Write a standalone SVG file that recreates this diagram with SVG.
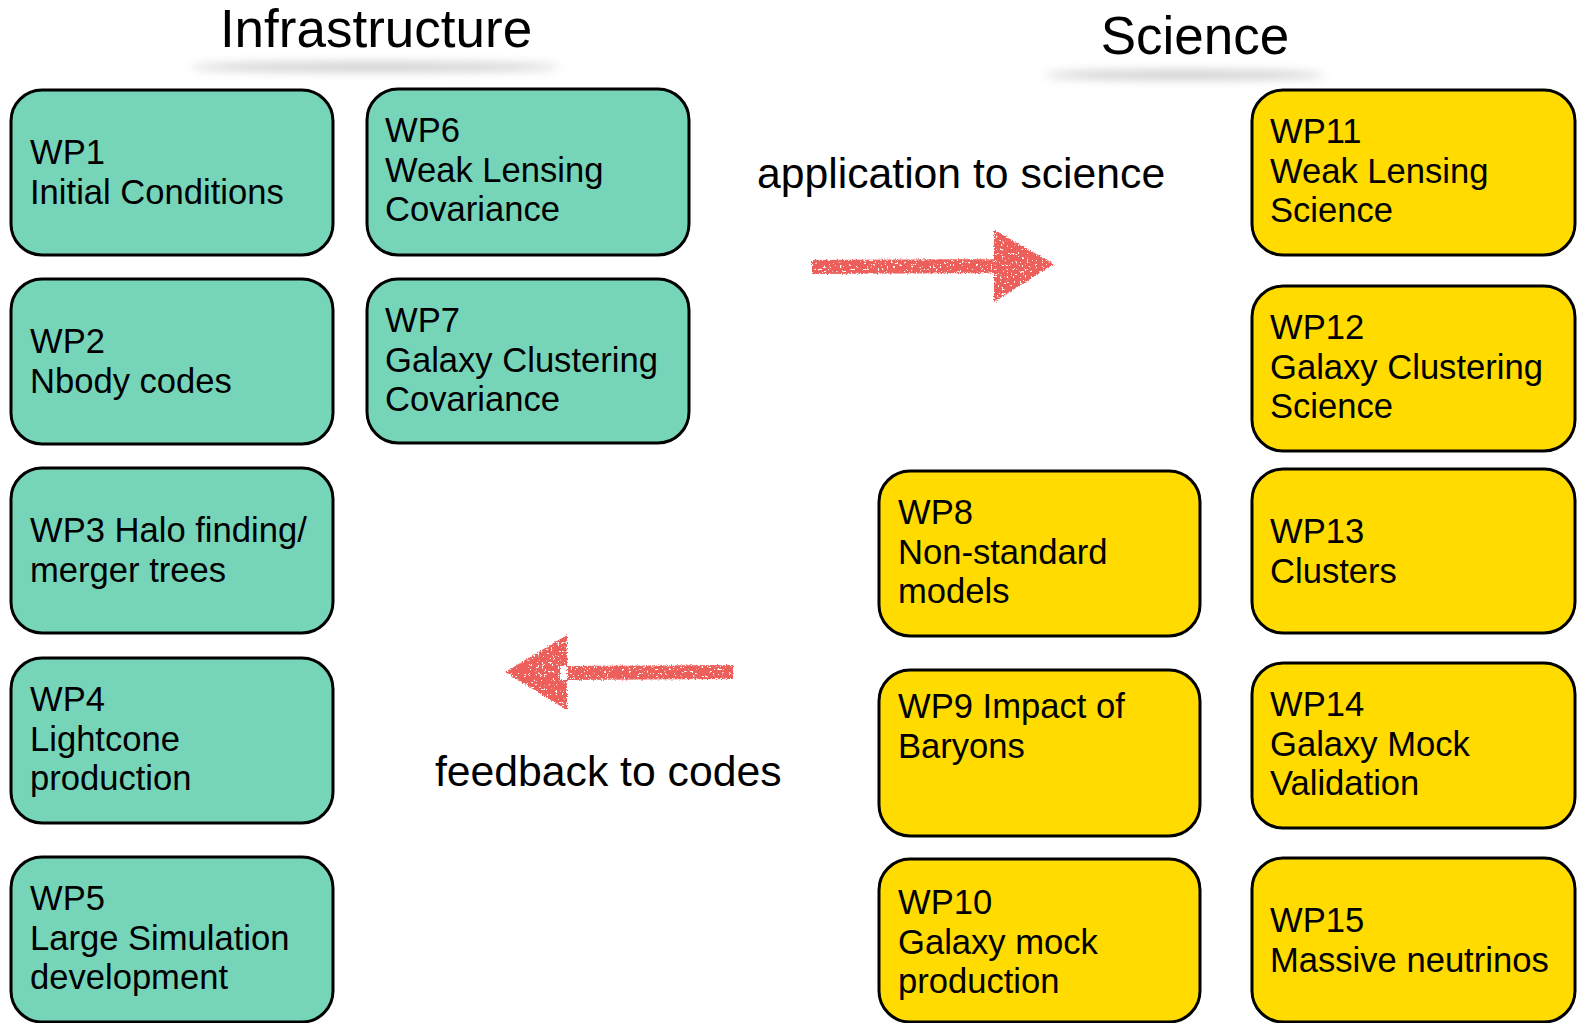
<svg xmlns="http://www.w3.org/2000/svg" width="1581" height="1023" viewBox="0 0 1581 1023">
  <defs>
    <style>
      .infra { fill: #76D5B9; stroke: #000; stroke-width: 3; }
      .sci { fill: #FFDB00; stroke: #000; stroke-width: 3; }
      .lbl { font-family: "Liberation Sans", Arial, sans-serif; font-size: 34.6px; fill: #000; }
      .title { font-family: "Liberation Sans", Arial, sans-serif; font-size: 53px; fill: #000; text-anchor: middle; }
      .note { font-family: "Liberation Sans", Arial, sans-serif; font-size: 42.7px; fill: #000; }
      .chalk { fill: #EC5E5A; filter: url(#chalk); }
    </style>
    <filter id="soft" x="-20%" y="-300%" width="140%" height="700%">
      <feGaussianBlur stdDeviation="5"/>
    </filter>
    <filter id="chalk" x="-10%" y="-30%" width="120%" height="160%">
      <feTurbulence type="fractalNoise" baseFrequency="0.8" numOctaves="2" seed="3" result="n"/>
      <feDisplacementMap in="SourceGraphic" in2="n" scale="4" xChannelSelector="R" yChannelSelector="G" result="d"/>
      <feTurbulence type="fractalNoise" baseFrequency="0.45" numOctaves="2" seed="11" result="n2"/>
      <feColorMatrix in="n2" type="matrix" values="0 0 0 0 0  0 0 0 0 0  0 0 0 0 0  -14 0 0 0 10" result="holes"/>
      <feComposite in="d" in2="holes" operator="in"/>
    </filter>
  </defs>

  <rect width="1581" height="1023" fill="#fff"/>

  <!-- column headings with soft drop shadows -->
  <g id="headings">
    <ellipse cx="375" cy="67" rx="185" ry="5" fill="#a0a0a0" opacity="0.5" filter="url(#soft)"/>
    <ellipse cx="1185" cy="75" rx="140" ry="5" fill="#a0a0a0" opacity="0.5" filter="url(#soft)"/>
    <text class="title" x="376" y="47">Infrastructure</text>
    <text class="title" x="1195" y="54">Science</text>
  </g>

  <!-- infrastructure work packages -->
  <g id="wp1">
    <rect class="infra" x="11" y="90" width="322" height="165" rx="31"/>
    <text class="lbl" x="30" y="164"><tspan>WP1</tspan><tspan x="30" dy="39.5">Initial Conditions</tspan></text>
  </g>
  <g id="wp2">
    <rect class="infra" x="11" y="279" width="322" height="165" rx="31"/>
    <text class="lbl" x="30" y="353"><tspan>WP2</tspan><tspan x="30" dy="39.5">Nbody codes</tspan></text>
  </g>
  <g id="wp3">
    <rect class="infra" x="11" y="468" width="322" height="165" rx="31"/>
    <text class="lbl" x="30" y="542"><tspan>WP3 Halo finding/</tspan><tspan x="30" dy="39.5">merger trees</tspan></text>
  </g>
  <g id="wp4">
    <rect class="infra" x="11" y="658" width="322" height="165" rx="31"/>
    <text class="lbl" x="30" y="711"><tspan>WP4</tspan><tspan x="30" dy="39.5">Lightcone</tspan><tspan x="30" dy="39.5">production</tspan></text>
  </g>
  <g id="wp5">
    <rect class="infra" x="11" y="857" width="322" height="165" rx="31"/>
    <text class="lbl" x="30" y="910"><tspan>WP5</tspan><tspan x="30" dy="39.5">Large Simulation</tspan><tspan x="30" dy="39.5">development</tspan></text>
  </g>
  <g id="wp6">
    <rect class="infra" x="367" y="89" width="322" height="166" rx="31"/>
    <text class="lbl" x="385" y="142"><tspan>WP6</tspan><tspan x="385" dy="39.5">Weak Lensing</tspan><tspan x="385" dy="39.5">Covariance</tspan></text>
  </g>
  <g id="wp7">
    <rect class="infra" x="367" y="279" width="322" height="164" rx="31"/>
    <text class="lbl" x="385" y="332"><tspan>WP7</tspan><tspan x="385" dy="39.5">Galaxy Clustering</tspan><tspan x="385" dy="39.5">Covariance</tspan></text>
  </g>

  <!-- science work packages -->
  <g id="wp8">
    <rect class="sci" x="879" y="471" width="321" height="165" rx="31"/>
    <text class="lbl" x="898" y="524"><tspan>WP8</tspan><tspan x="898" dy="39.5">Non-standard</tspan><tspan x="898" dy="39.5">models</tspan></text>
  </g>
  <g id="wp9">
    <rect class="sci" x="879" y="670" width="321" height="166" rx="31"/>
    <text class="lbl" x="898" y="718"><tspan>WP9 Impact of</tspan><tspan x="898" dy="39.5">Baryons</tspan></text>
  </g>
  <g id="wp10">
    <rect class="sci" x="879" y="859" width="321" height="163" rx="31"/>
    <text class="lbl" x="898" y="914"><tspan>WP10</tspan><tspan x="898" dy="39.5">Galaxy mock</tspan><tspan x="898" dy="39.5">production</tspan></text>
  </g>
  <g id="wp11">
    <rect class="sci" x="1252" y="90" width="323" height="165" rx="31"/>
    <text class="lbl" x="1270" y="143"><tspan>WP11</tspan><tspan x="1270" dy="39.5">Weak Lensing</tspan><tspan x="1270" dy="39.5">Science</tspan></text>
  </g>
  <g id="wp12">
    <rect class="sci" x="1252" y="286" width="323" height="165" rx="31"/>
    <text class="lbl" x="1270" y="339"><tspan>WP12</tspan><tspan x="1270" dy="39.5">Galaxy Clustering</tspan><tspan x="1270" dy="39.5">Science</tspan></text>
  </g>
  <g id="wp13">
    <rect class="sci" x="1252" y="469" width="323" height="164" rx="31"/>
    <text class="lbl" x="1270" y="543"><tspan>WP13</tspan><tspan x="1270" dy="39.5">Clusters</tspan></text>
  </g>
  <g id="wp14">
    <rect class="sci" x="1252" y="663" width="323" height="165" rx="31"/>
    <text class="lbl" x="1270" y="716"><tspan>WP14</tspan><tspan x="1270" dy="39.5">Galaxy Mock</tspan><tspan x="1270" dy="39.5">Validation</tspan></text>
  </g>
  <g id="wp15">
    <rect class="sci" x="1252" y="858" width="323" height="164" rx="31"/>
    <text class="lbl" x="1270" y="932"><tspan>WP15</tspan><tspan x="1270" dy="39.5">Massive neutrinos</tspan></text>
  </g>

  <!-- hand-drawn style arrows between the two halves -->
  <g id="connectors">
    <g id="to-science">
      <path class="chalk" d="M812 260 L1000 259 L1000 273 L812 274 Z M994 230 L1054 264 L994 302 Z"/>
      <text class="note" x="757" y="188">application to science</text>
    </g>
    <g id="to-codes">
      <path class="chalk" d="M560 666 L733 665 L733 679 L560 680 Z M567 635 L505 672 L567 710 Z"/>
      <text class="note" x="435" y="786">feedback to codes</text>
    </g>
  </g>
</svg>
